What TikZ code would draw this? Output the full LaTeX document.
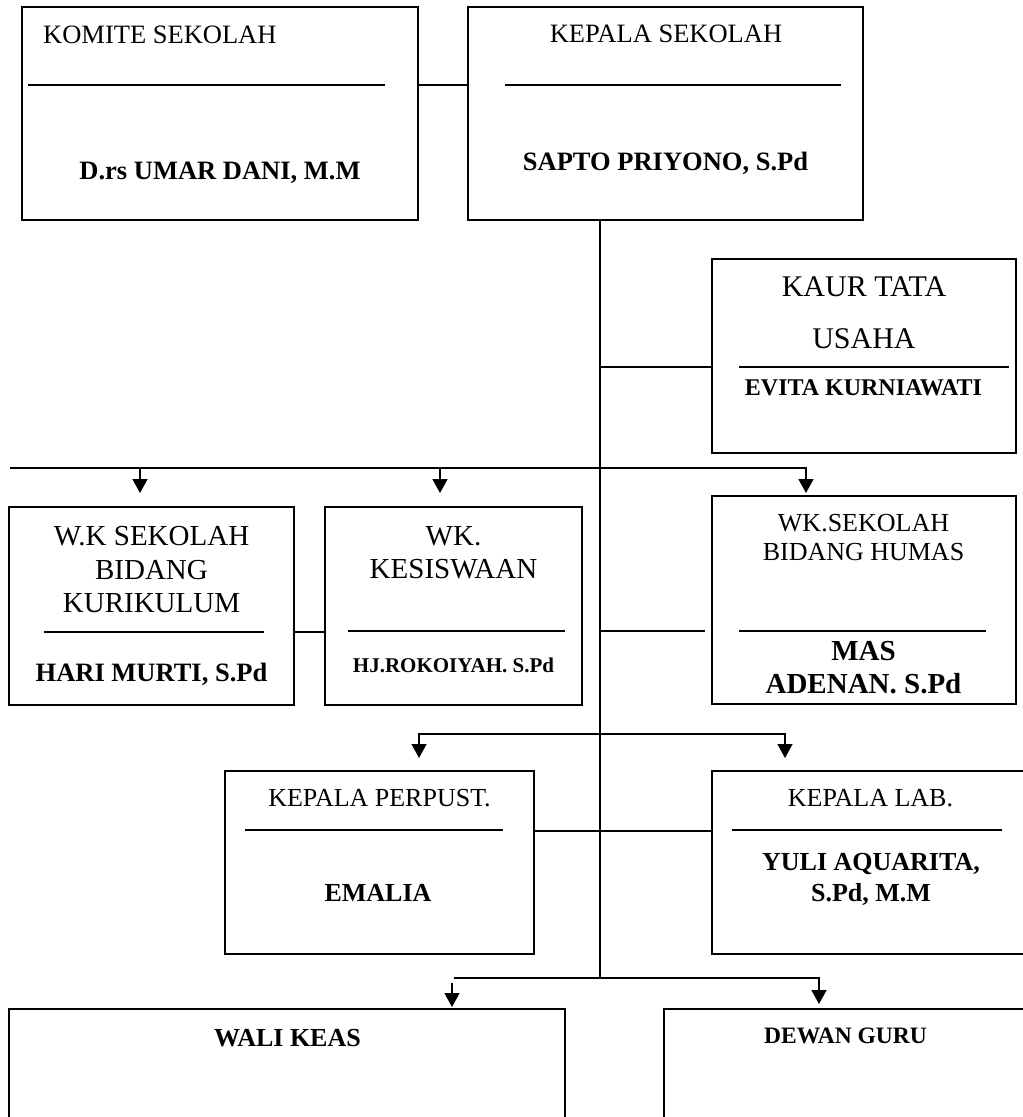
\documentclass[tikz,border=0pt]{standalone}
\usepackage{fontspec}
\setmainfont{Liberation Serif}
\usetikzlibrary{arrows.meta}
\begin{document}
\begin{tikzpicture}[x=1pt,y=-1pt,
  box/.style={draw, line width=1.6pt, inner sep=0pt, outer sep=0pt, anchor=north west},
  conn/.style={line width=1.5pt},
  arr/.style={line width=1.5pt, -{Triangle[width=15pt,length=14pt]}},
  div/.style={line width=1.5pt},
  lbl/.style={inner sep=0pt, anchor=base, font=\fontsize{26.5}{30}\selectfont},
  lblb/.style={inner sep=0pt, anchor=base, font=\fontsize{26.5}{30}\selectfont\bfseries},
]
\useasboundingbox (0,0) rectangle (1023,1117);
\fill[white] (0,0) rectangle (1023,1117);
\clip (0,0) rectangle (1023,1117);

% boxes
\node[box, minimum width=396pt, minimum height=213pt] (kom) at (22,7) {};
\node[box, minimum width=395pt, minimum height=213pt] (kep) at (468,7) {};
\node[box, minimum width=304pt, minimum height=194pt] (kaur) at (712,259) {};
\node[box, minimum width=285pt, minimum height=198pt] (kur) at (9,507) {};
\node[box, minimum width=257pt, minimum height=198pt] (kes) at (325,507) {};
\node[box, minimum width=304pt, minimum height=208pt] (hum) at (712,496) {};
\node[box, minimum width=309pt, minimum height=183pt] (per) at (225,771) {};
\node[box, minimum width=317pt, minimum height=183pt] (lab) at (712,771) {};
\node[box, minimum width=556pt, minimum height=140pt] (wal) at (9,1009) {};
\node[box, minimum width=363pt, minimum height=140pt] (dew) at (664,1009) {};

% Komite
\node[lbl, anchor=base west] (komT) at (43,43) {KOMITE SEKOLAH};
\draw[div] (28,85) -- (385,85);
\node[lblb] (komN) at (220,179) {D.rs UMAR DANI, M.M};

% Kepala sekolah
\node[lbl] (kepT) at (666,42) {KEPALA SEKOLAH};
\draw[div] (505,85) -- (841,85);
\node[lblb] (kepN) at (665.5,170) {SAPTO PRIYONO, S.Pd};

% Kaur TU
\node[lbl, font=\fontsize{30}{34}\selectfont] (kaurT1) at (864,296) {KAUR TATA};
\node[lbl, font=\fontsize{30}{34}\selectfont] (kaurT2) at (864,348) {USAHA};
\draw[div] (739,367) -- (1009,367);
\node[lblb, font=\fontsize{24}{28}\selectfont\bfseries] (kaurN) at (863.5,395) {EVITA KURNIAWATI};

% Kurikulum
\node[lbl, font=\fontsize{29}{33}\selectfont] (kurT1) at (151.5,545) {W.K SEKOLAH};
\node[lbl, font=\fontsize{29}{33}\selectfont] (kurT2) at (151.5,579) {BIDANG};
\node[lbl, font=\fontsize{29}{33}\selectfont] (kurT3) at (151.5,612) {KURIKULUM};
\draw[div] (44,632) -- (264,632);
\node[lblb] (kurN) at (151.5,681) {HARI MURTI, S.Pd};

% Kesiswaan
\node[lbl, font=\fontsize{29}{33}\selectfont] (kesT1) at (453.5,545) {WK.};
\node[lbl, font=\fontsize{29}{33}\selectfont] (kesT2) at (453.5,578) {KESISWAAN};
\draw[div] (348,631) -- (565,631);
\node[lblb, font=\fontsize{21}{25}\selectfont\bfseries] (kesN) at (453.5,672) {HJ.ROKOIYAH. S.Pd};

% Humas
\node[lbl, font=\fontsize{26}{29}\selectfont] (humT1) at (863.5,531) {WK.SEKOLAH};
\node[lbl, font=\fontsize{26}{29}\selectfont] (humT2) at (863.5,560) {BIDANG HUMAS};
\draw[div] (739,631) -- (986,631);
\node[lblb, font=\fontsize{29}{33}\selectfont\bfseries] (humN1) at (863.5,660) {MAS};
\node[lblb, font=\fontsize{29}{33}\selectfont\bfseries] (humN2) at (863.5,693) {ADENAN. S.Pd};

% Perpustakaan
\node[lbl, font=\fontsize{26}{29}\selectfont] (perT) at (379.5,806) {KEPALA PERPUST.};
\draw[div] (245,830) -- (503,830);
\node[lblb, font=\fontsize{26}{29}\selectfont\bfseries] (perN) at (378,901) {EMALIA};

% Lab
\node[lbl, font=\fontsize{26}{29}\selectfont] (labT) at (870.5,806) {KEPALA LAB.};
\draw[div] (732,830) -- (1002,830);
\node[lblb, font=\fontsize{26}{29}\selectfont\bfseries] (labN1) at (871,870) {YULI AQUARITA,};
\node[lblb, font=\fontsize{26}{29}\selectfont\bfseries] (labN2) at (871,901) {S.Pd, M.M};

% Wali kelas, Dewan guru
\node[lblb, font=\fontsize{26}{29}\selectfont\bfseries] (walT) at (287.5,1046) {WALI KEAS};
\node[lblb, font=\fontsize{23.5}{27}\selectfont\bfseries] (dewT) at (845.5,1043) {DEWAN GURU};

% helper coordinates
\coordinate (h85) at (0,85);
\coordinate (h367) at (0,367);
\coordinate (h631) at (0,631);
\coordinate (h632) at (0,632);
\coordinate (h831) at (0,831);
\coordinate (trunkB) at (600,978);
\coordinate (b1l) at (10,468);
\coordinate (b1r) at (806,468);
\coordinate (a1) at (140,468);
\coordinate (a2) at (440,468);
\coordinate (b2l) at (419,734);
\coordinate (b2r) at (785,734);
\coordinate (b3l) at (454,978);
\coordinate (b3r) at (819,978);
\coordinate (b3a) at (452,983);

% connectors
\draw[conn] (kom.east |- h85) -- (kep.west |- h85);
\draw[conn] (trunkB |- kep.south) -- (trunkB);
\draw[conn] (trunkB |- h367) -- (kaur.west |- h367);
\draw[arr, shorten >=3pt] (b1l) -- (b1r) -- (b1r |- hum.north);
\draw[arr, shorten >=14pt] (a1) -- (a1 |- kur.north);
\draw[arr, shorten >=14pt] (a2) -- (a2 |- kes.north);
\draw[conn] (kur.east |- h632) -- (kes.west |- h632);
\draw[conn, shorten >=7pt] (trunkB |- h631) -- (hum.west |- h631);
\draw[line width=1.5pt, {Triangle[width=15pt,length=14pt]}-{Triangle[width=15pt,length=14pt]}, shorten <=13pt, shorten >=13pt]
  (b2l |- per.north) -- (b2l) -- (b2r) -- (b2r |- lab.north);
\draw[conn] (per.east |- h831) -- (lab.west |- h831);
\draw[arr, shorten >=5pt] (b3l) -- (b3r) -- (b3r |- dew.north);
\draw[arr, shorten >=2pt] (b3a) -- (b3a |- wal.north);
\end{tikzpicture}
\end{document}
